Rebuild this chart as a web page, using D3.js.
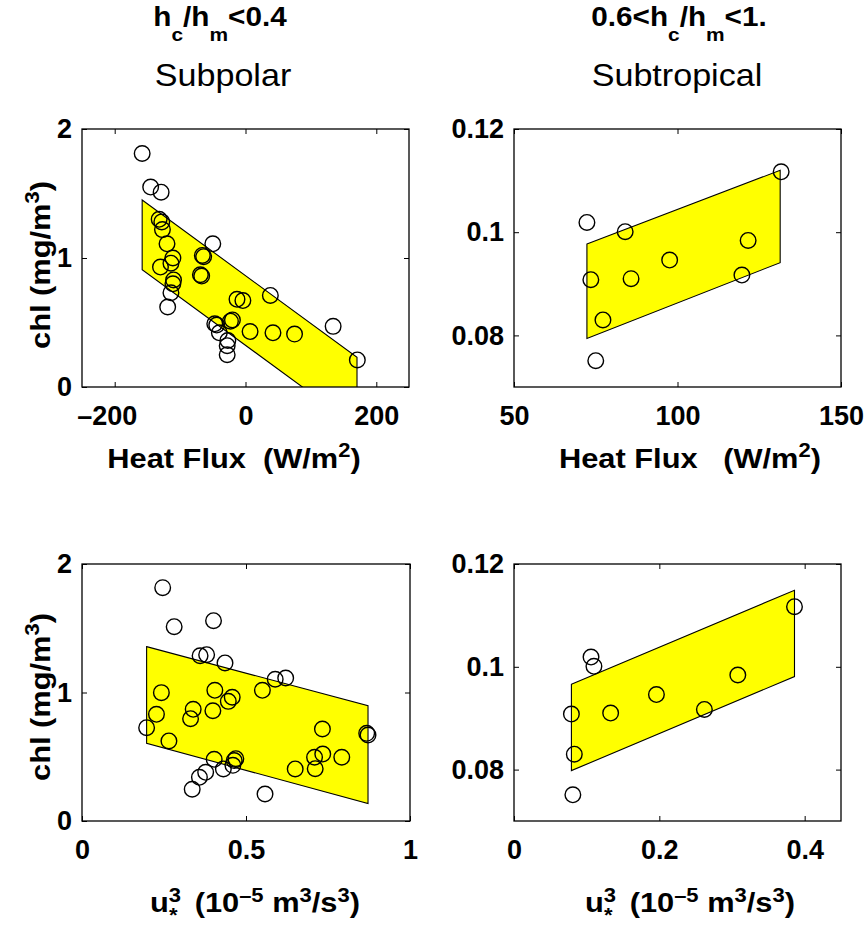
<!DOCTYPE html>
<html>
<head>
<meta charset="utf-8">
<script src="https://cdn.jsdelivr.net/npm/d3@7"></script>
<style>
body { margin: 0; background: #fff; }
text { font-family: "Liberation Sans", Arial, Helvetica, sans-serif; fill: #000; white-space: pre; }
</style>
</head>
<body>
<div id="chart"></div>
<script>
// subpolar, heat flux vs chl
const subpolarFlux = [-158, -145, -129, -132, -128, -127, -120, -50, -66, -64, -111, -114, -130, -69, -67, -110, -111, -114, -119,
    -13, -4, 38, -44, -47, -23, -20, -40, -27, -28, -28, 7, 42, 75, 134, 171];
const subpolarFluxChl = [1.81, 1.55, 1.51, 1.30, 1.28, 1.22, 1.11, 1.11, 1.02, 1.01, 1.00, 0.96, 0.93, 0.87, 0.86, 0.83, 0.80, 0.73, 0.62,
    0.68, 0.67, 0.71, 0.48, 0.49, 0.51, 0.52, 0.42, 0.36, 0.32, 0.25, 0.43, 0.42, 0.41, 0.47, 0.21];

// subpolar, u*^3 vs chl
const subpolarU3 = [0.246, 0.281, 0.401, 0.360, 0.380, 0.436, 0.589, 0.621, 0.242, 0.405, 0.458, 0.446, 0.550, 0.227, 0.339, 0.331,
    0.399, 0.197, 0.265, 0.733, 0.868, 0.872, 0.403, 0.469, 0.464, 0.460, 0.431, 0.377, 0.358, 0.336, 0.558, 0.650, 0.711, 0.709, 0.734, 0.792];
const subpolarU3Chl = [1.816, 1.512, 1.559, 1.286, 1.294, 1.230, 1.103, 1.113, 0.999, 1.017, 0.963, 0.931, 1.017, 0.830, 0.869, 0.796,
    0.858, 0.726, 0.623, 0.716, 0.682, 0.669, 0.480, 0.485, 0.470, 0.433, 0.405, 0.379, 0.340, 0.247, 0.210, 0.405, 0.407, 0.496, 0.521, 0.496];

// subtropical, same ten stations in both panels
const subtropChl = [0.1019, 0.1001, 0.0908, 0.0910, 0.0946, 0.0984, 0.0917, 0.0830, 0.0751, 0.1117];
const subtropFlux = [72.3, 84.0, 73.5, 85.8, 97.6, 121.6, 119.7, 77.2, 75.0, 131.7];
const subtropU3 = [0.106, 0.110, 0.079, 0.133, 0.196, 0.308, 0.262, 0.083, 0.081, 0.386];

// regression bands (x ends, upper and lower chl at those ends)
const subpolarFluxBandX = [-158, 170.5];
const subpolarFluxBandHi = [1.45, 0.23];
const subpolarFluxBandLo = [0.91, -0.31];
const subtropFluxBandX = [72.3, 131.4];
const subtropFluxBandHi = [0.0977, 0.1120];
const subtropFluxBandLo = [0.0794, 0.0941];
const subpolarU3BandX = [0.197, 0.872];
const subpolarU3BandHi = [1.357, 0.897];
const subpolarU3BandLo = [0.605, 0.135];
const subtropU3BandX = [0.079, 0.386];
const subtropU3BandHi = [0.0966, 0.1149];
const subtropU3BandLo = [0.0798, 0.0981];

// ticks
const fluxTicksSubpolar = [-200, 0, 200];
const fluxTicksSubtrop = [50, 100, 150];
const u3TicksSubpolar = [0, 0.5, 1];
const u3TicksSubtrop = [0, 0.2, 0.4];
const chlTicksSubpolar = [0, 1, 2];
const chlTicksSubtrop = [0.08, 0.1, 0.12];

const svg = d3.select('#chart').append('svg')
    .attr('width', 868)
    .attr('height', 926);

const fmt = d => d < 0 ? '\u2013' + Math.abs(d) : String(d);

const panels = [
    { id: 'a', x0: 82, x1: 409, y0: 129, y1: 387, xd: [-250, 250], yd: [0, 2], xt: fluxTicksSubpolar, yt: chlTicksSubpolar,
      xs: subpolarFlux, ys: subpolarFluxChl, bx: subpolarFluxBandX, bhi: subpolarFluxBandHi, blo: subpolarFluxBandLo },
    { id: 'b', x0: 514, x1: 841, y0: 129, y1: 387, xd: [50, 150], yd: [0.07, 0.12], xt: fluxTicksSubtrop, yt: chlTicksSubtrop,
      xs: subtropFlux, ys: subtropChl, bx: subtropFluxBandX, bhi: subtropFluxBandHi, blo: subtropFluxBandLo },
    { id: 'c', x0: 82, x1: 410, y0: 564, y1: 821, xd: [0, 1], yd: [0, 2], xt: u3TicksSubpolar, yt: chlTicksSubpolar,
      xs: subpolarU3, ys: subpolarU3Chl, bx: subpolarU3BandX, bhi: subpolarU3BandHi, blo: subpolarU3BandLo },
    { id: 'd', x0: 514, x1: 841, y0: 564, y1: 821, xd: [0, 0.45], yd: [0.07, 0.12], xt: u3TicksSubtrop, yt: chlTicksSubtrop,
      xs: subtropU3, ys: subtropChl, bx: subtropU3BandX, bhi: subtropU3BandHi, blo: subtropU3BandLo }
];

panels.forEach(p => {
    const x = d3.scaleLinear().domain(p.xd).range([p.x0, p.x1]);
    const y = d3.scaleLinear().domain(p.yd).range([p.y1, p.y0]);

    svg.append('clipPath').attr('id', 'clip-' + p.id)
        .append('rect')
        .attr('x', p.x0).attr('y', p.y0)
        .attr('width', p.x1 - p.x0).attr('height', p.y1 - p.y0);

    const band = [[p.bx[0], p.bhi[0]], [p.bx[1], p.bhi[1]], [p.bx[1], p.blo[1]], [p.bx[0], p.blo[0]]];
    svg.append('path')
        .attr('clip-path', `url(#clip-${p.id})`)
        .attr('d', d3.line().x(d => x(d[0])).y(d => y(d[1]))(band) + 'Z')
        .attr('fill', '#ffff00')
        .attr('stroke', '#000')
        .attr('stroke-width', 1.1);

    svg.append('g')
        .selectAll('circle')
        .data(d3.zip(p.xs, p.ys))
        .enter()
        .append('circle')
        .attr('cx', d => x(d[0]))
        .attr('cy', d => y(d[1]))
        .attr('r', 7.8)
        .attr('fill', 'none')
        .attr('stroke', '#000')
        .attr('stroke-width', 1.4);

    // axes: ticks inside on all four sides, labels bottom/left only
    const bottom = svg.append('g').attr('transform', `translate(0,${p.y1})`)
        .call(d3.axisBottom(x).tickValues(p.xt).tickSize(-5).tickPadding(19).tickFormat(fmt));
    bottom.selectAll('text')
        .attr('dx', d => d < 0 ? -8 : 0);
    svg.append('g').attr('transform', `translate(0,${p.y0})`)
        .call(d3.axisTop(x).tickValues(p.xt).tickSize(-5).tickFormat(''));
    svg.append('g').attr('transform', `translate(${p.x0},0)`)
        .call(d3.axisLeft(y).tickValues(p.yt).tickSize(-5).tickPadding(10).tickFormat(fmt));
    svg.append('g').attr('transform', `translate(${p.x1},0)`)
        .call(d3.axisRight(y).tickValues(p.yt).tickSize(-5).tickFormat(''));

    svg.selectAll('.domain').remove();
    svg.selectAll('.tick line').attr('stroke', '#000');
    svg.selectAll('.tick text')
        .attr('fill', '#000')
        .style('font-size', '27px')
        .style('font-weight', 'bold')
        .style('font-family', '"Liberation Sans", Arial, sans-serif');

    svg.append('rect')
        .attr('x', p.x0).attr('y', p.y0)
        .attr('width', p.x1 - p.x0).attr('height', p.y1 - p.y0)
        .attr('fill', 'none')
        .attr('stroke', '#000')
        .attr('stroke-width', 1.3);
});

// text with sub/superscripts, slightly widened like the original renderer
function richText(x, y, parts, size, bold, rotate) {
    const t = svg.append('text')
        .attr('transform', `translate(${x},${y})${rotate ? ' rotate(-90)' : ''} scale(1.1,1)`)
        .attr('text-anchor', 'middle')
        .style('font-size', size + 'px')
        .style('font-weight', bold ? 'bold' : 'normal');
    parts.forEach(q => {
        const s = t.append('tspan').text(q.t);
        if (q.dy) s.attr('dy', q.dy);
        if (q.dx) s.attr('dx', q.dx);
        if (q.size) s.style('font-size', q.size + 'px');
    });
    return t;
}

// titles
richText(220, 26, [{ t: 'h' }, { t: 'c', dy: 15, size: 19 }, { t: '/h', dy: -15 }, { t: 'm', dy: 15, size: 19 }, { t: '<0.4', dy: -15 }], 27, true);
richText(679, 26, [{ t: '0.6<h' }, { t: 'c', dy: 15, size: 19 }, { t: '/h', dy: -15 }, { t: 'm', dy: 15, size: 19 }, { t: '<1.', dy: -15 }], 27, true);
richText(223, 86, [{ t: 'Subpolar' }], 31, false);
richText(677, 86, [{ t: 'Subtropical' }], 31, false);

// y labels
const chlLabel = [{ t: 'chl (mg/m' }, { t: '3', dy: -11, size: 20 }, { t: ')', dy: 11 }];
richText(50, 265, chlLabel, 28, true, true);
richText(50, 697, chlLabel, 28, true, true);

// x labels
richText(234, 468, [{ t: 'Heat Flux  (W/m' }, { t: '2', dy: -11, size: 20 }, { t: ')', dy: 11 }], 28, true);
richText(690, 468, [{ t: 'Heat Flux   (W/m' }, { t: '2', dy: -11, size: 20 }, { t: ')', dy: 11 }], 28, true);
const u3Label = [
    { t: 'u' }, { t: '3', dy: -10, size: 20 }, { t: '*', dx: -11, dy: 20, size: 20 },
    { t: '  (10', dy: -10 }, { t: '\u20135', dy: -10, size: 20 }, { t: ' m', dy: 10 },
    { t: '3', dy: -10, size: 20 }, { t: '/s', dy: 10 }, { t: '3', dy: -10, size: 20 }, { t: ')', dy: 10 }
];
richText(255, 912, u3Label, 28, true);
richText(690, 912, u3Label, 28, true);
</script>
</body>
</html>
